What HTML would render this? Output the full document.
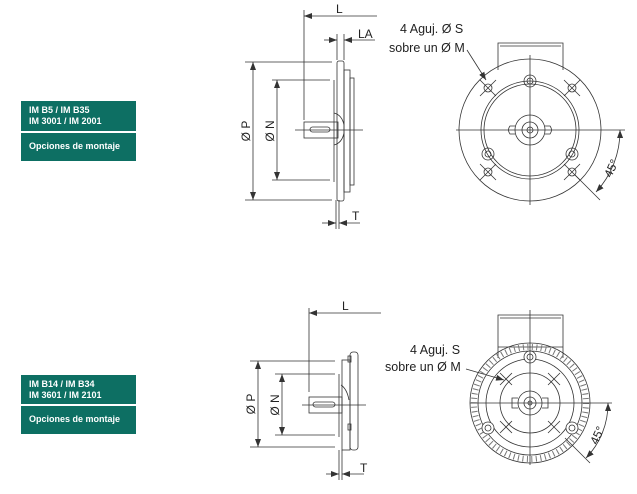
<!DOCTYPE html>
<html><head><meta charset="utf-8"><style>
html,body{margin:0;padding:0;background:#fff;}
body{width:637px;height:494px;position:relative;overflow:hidden;font-family:"Liberation Sans",sans-serif;}
.b{position:absolute;left:21px;width:115px;background:#0d6f63;color:#fff;font-weight:bold;font-size:9px;line-height:11px;box-sizing:border-box;padding-left:8px;}
svg{position:absolute;left:0;top:0;}
</style></head><body>
<div class="b" style="top:101px;height:30px;padding-top:4px;">IM B5 / IM B35<br>IM 3001 / IM 2001</div>
<div class="b" style="top:133px;height:28px;padding-top:8px;">Opciones de montaje</div>
<div class="b" style="top:375px;height:29px;padding-top:4px;">IM B14 / IM B34<br>IM 3601 / IM 2101</div>
<div class="b" style="top:406px;height:28px;padding-top:8px;">Opciones de montaje</div>
<svg width="637" height="494" viewBox="0 0 637 494" fill="none" stroke="#333" stroke-width="0.8" font-family="Liberation Sans, sans-serif">
<defs><marker id="a" markerWidth="8" markerHeight="6" refX="8" refY="3" orient="auto-start-reverse" markerUnits="userSpaceOnUse"><path d="M0,0 L8,3 L0,6z" fill="#333" stroke="none"/></marker></defs>
<!-- TOP SIDE VIEW -->
<line x1="304" y1="10" x2="304" y2="120"/>
<line x1="304" y1="16" x2="377" y2="16" marker-start="url(#a)"/>
<text x="336" y="13" fill="#222" stroke="none" font-size="12">L</text>
<line x1="337" y1="34" x2="337" y2="60"/><line x1="344" y1="34" x2="344" y2="60"/>
<line x1="324" y1="40" x2="337" y2="40" marker-end="url(#a)"/><line x1="375" y1="40" x2="344" y2="40" marker-end="url(#a)"/>
<text x="358" y="38" fill="#222" stroke="none" font-size="12">LA</text>
<rect x="337" y="61" width="7" height="140" rx="2"/>
<rect x="344" y="70" width="6" height="122"/>
<rect x="350" y="78" width="4" height="107"/>
<line x1="334" y1="80" x2="334" y2="182"/>
<path d="M334,113 q8,2 10,12 M334,145 q8,-2 10,-12"/>
<line x1="245" y1="62" x2="332" y2="62"/><line x1="245" y1="200" x2="332" y2="200"/>
<line x1="253" y1="62" x2="253" y2="200" marker-start="url(#a)" marker-end="url(#a)"/>
<text transform="translate(250,131) rotate(-90)" text-anchor="middle" fill="#222" stroke="none" font-size="12">Ø P</text>
<line x1="272" y1="80" x2="330" y2="80"/><line x1="272" y1="180" x2="330" y2="180"/>
<line x1="277" y1="80" x2="277" y2="180" marker-start="url(#a)" marker-end="url(#a)"/>
<text transform="translate(274,131) rotate(-90)" text-anchor="middle" fill="#222" stroke="none" font-size="12">Ø N</text>
<rect x="304" y="122" width="34" height="16"/><rect x="310" y="127" width="20" height="5" rx="2.5"/>
<line x1="295" y1="130" x2="363" y2="130"/>
<line x1="336" y1="200" x2="336" y2="229"/><line x1="339" y1="200" x2="339" y2="229"/>
<line x1="322" y1="223" x2="336" y2="223" marker-end="url(#a)"/><line x1="360" y1="223" x2="339" y2="223" marker-end="url(#a)"/>
<text x="352" y="220" fill="#222" stroke="none" font-size="12">T</text>
<!-- TOP FRONT VIEW -->
<text x="400" y="33" fill="#222" stroke="none" font-size="12.5">4 Aguj. Ø S</text>
<text x="389" y="52" fill="#222" stroke="none" font-size="12.5">sobre un Ø M</text>
<line x1="467" y1="50" x2="486" y2="80" marker-end="url(#a)"/>
<path d="M498,70 V43 H563 V70"/><line x1="500" y1="46" x2="561" y2="46"/>
<circle cx="530" cy="130" r="71"/>
<circle cx="530" cy="130" r="49"/><circle cx="530" cy="130" r="46"/>
<circle cx="530" cy="130" r="15"/><circle cx="530" cy="130" r="8"/><circle cx="530" cy="130" r="3"/>
<path d="M515,126 h-5 q-3,4 0,8 h5 M545,126 h5 q3,4 0,8 h-5"/>
<circle cx="530" cy="81" r="6"/><circle cx="530" cy="81" r="3"/>
<circle cx="488" cy="154" r="6"/><circle cx="488" cy="154" r="3"/>
<circle cx="572" cy="154" r="6"/><circle cx="572" cy="154" r="3"/>
<g>
<circle cx="488" cy="88" r="4"/><line x1="480" y1="80" x2="496" y2="96"/><line x1="480" y1="96" x2="496" y2="80"/>
<circle cx="572" cy="88" r="4"/><line x1="564" y1="80" x2="580" y2="96"/><line x1="564" y1="96" x2="580" y2="80"/>
<circle cx="488" cy="172" r="4"/><line x1="480" y1="164" x2="496" y2="180"/><line x1="480" y1="180" x2="496" y2="164"/>
<circle cx="572" cy="172" r="4"/><line x1="564" y1="164" x2="580" y2="180"/><line x1="564" y1="180" x2="580" y2="164"/>
</g>
<line x1="456" y1="130" x2="625" y2="130"/><line x1="530" y1="55" x2="530" y2="205"/>
<line x1="575" y1="175" x2="600" y2="200"/>
<path d="M620,130 A90,90 0 0 1 596,192" marker-start="url(#a)" marker-end="url(#a)"/>
<text transform="translate(615,170) rotate(-65)" text-anchor="middle" fill="#222" stroke="none" font-size="12">45°</text>
<!-- BOTTOM SIDE VIEW -->
<line x1="309" y1="308" x2="309" y2="392"/>
<line x1="309" y1="313" x2="381" y2="313" marker-start="url(#a)"/>
<text x="342" y="310" fill="#222" stroke="none" font-size="12">L</text>
<rect x="350" y="352" width="8" height="98" rx="3"/>
<rect x="342" y="360" width="8" height="90"/>
<line x1="339" y1="374" x2="339" y2="437"/>
<rect x="348" y="356" width="3" height="6"/><rect x="348" y="424" width="3" height="6"/>
<path d="M341,385 q6,4 8,15"/>
<line x1="250" y1="361" x2="335" y2="361"/><line x1="250" y1="447" x2="335" y2="447"/>
<line x1="258" y1="361" x2="258" y2="447" marker-start="url(#a)" marker-end="url(#a)"/>
<text transform="translate(255,404) rotate(-90)" text-anchor="middle" fill="#222" stroke="none" font-size="12">Ø P</text>
<line x1="275" y1="374" x2="335" y2="374"/><line x1="275" y1="435" x2="335" y2="435"/>
<line x1="282" y1="374" x2="282" y2="435" marker-start="url(#a)" marker-end="url(#a)"/>
<text transform="translate(279,405) rotate(-90)" text-anchor="middle" fill="#222" stroke="none" font-size="12">Ø N</text>
<rect x="309" y="397" width="33" height="16"/><rect x="313" y="402" width="22" height="5" rx="2.5"/>
<line x1="302" y1="405" x2="366" y2="405"/>
<line x1="339" y1="450" x2="339" y2="480"/><line x1="342" y1="450" x2="342" y2="480"/>
<line x1="326" y1="474" x2="339" y2="474" marker-end="url(#a)"/><line x1="364" y1="474" x2="342" y2="474" marker-end="url(#a)"/>
<text x="360" y="472" fill="#222" stroke="none" font-size="12">T</text>
<!-- BOTTOM FRONT VIEW -->
<text x="410" y="354" fill="#222" stroke="none" font-size="12.5">4 Aguj. S</text>
<text x="385" y="371" fill="#222" stroke="none" font-size="12.5">sobre un Ø M</text>
<line x1="466" y1="369" x2="504" y2="380" marker-end="url(#a)"/>
<path d="M498,358 V315 H563 V358"/><line x1="500" y1="318" x2="561" y2="318"/><line x1="498" y1="347" x2="563" y2="347"/>
<circle cx="530" cy="403" r="56" stroke-dasharray="1 3.5" stroke-width="6" stroke="#777"/>
<circle cx="530" cy="403" r="60"/>
<circle cx="530" cy="403" r="52"/>
<circle cx="530" cy="403" r="44"/><circle cx="530" cy="403" r="30"/>
<circle cx="530" cy="403" r="12"/><circle cx="530" cy="403" r="6"/><circle cx="530" cy="403" r="2"/>
<path d="M518,398 h-6 v10 h6 M542,398 h6 v10 h-6"/>
<circle cx="530" cy="357" r="6" fill="#fff"/><circle cx="530" cy="357" r="3"/>
<circle cx="488" cy="428" r="6" fill="#fff"/><circle cx="488" cy="428" r="3"/>
<circle cx="572" cy="428" r="6" fill="#fff"/><circle cx="572" cy="428" r="3"/>
<g>
<line x1="500" y1="373" x2="512" y2="385"/><line x1="500" y1="385" x2="512" y2="373"/>
<line x1="548" y1="373" x2="560" y2="385"/><line x1="548" y1="385" x2="560" y2="373"/>
<line x1="500" y1="421" x2="512" y2="433"/><line x1="500" y1="433" x2="512" y2="421"/>
<line x1="548" y1="421" x2="560" y2="433"/><line x1="548" y1="433" x2="560" y2="421"/>
</g>
<line x1="470" y1="403" x2="612" y2="403"/><line x1="530" y1="310" x2="530" y2="465"/>
<line x1="565" y1="438" x2="590" y2="463"/>
<path d="M608,403 A78,78 0 0 1 586,458" marker-start="url(#a)" marker-end="url(#a)"/>
<text transform="translate(601,437) rotate(-65)" text-anchor="middle" fill="#222" stroke="none" font-size="12">45°</text>
</svg>
</body></html>
